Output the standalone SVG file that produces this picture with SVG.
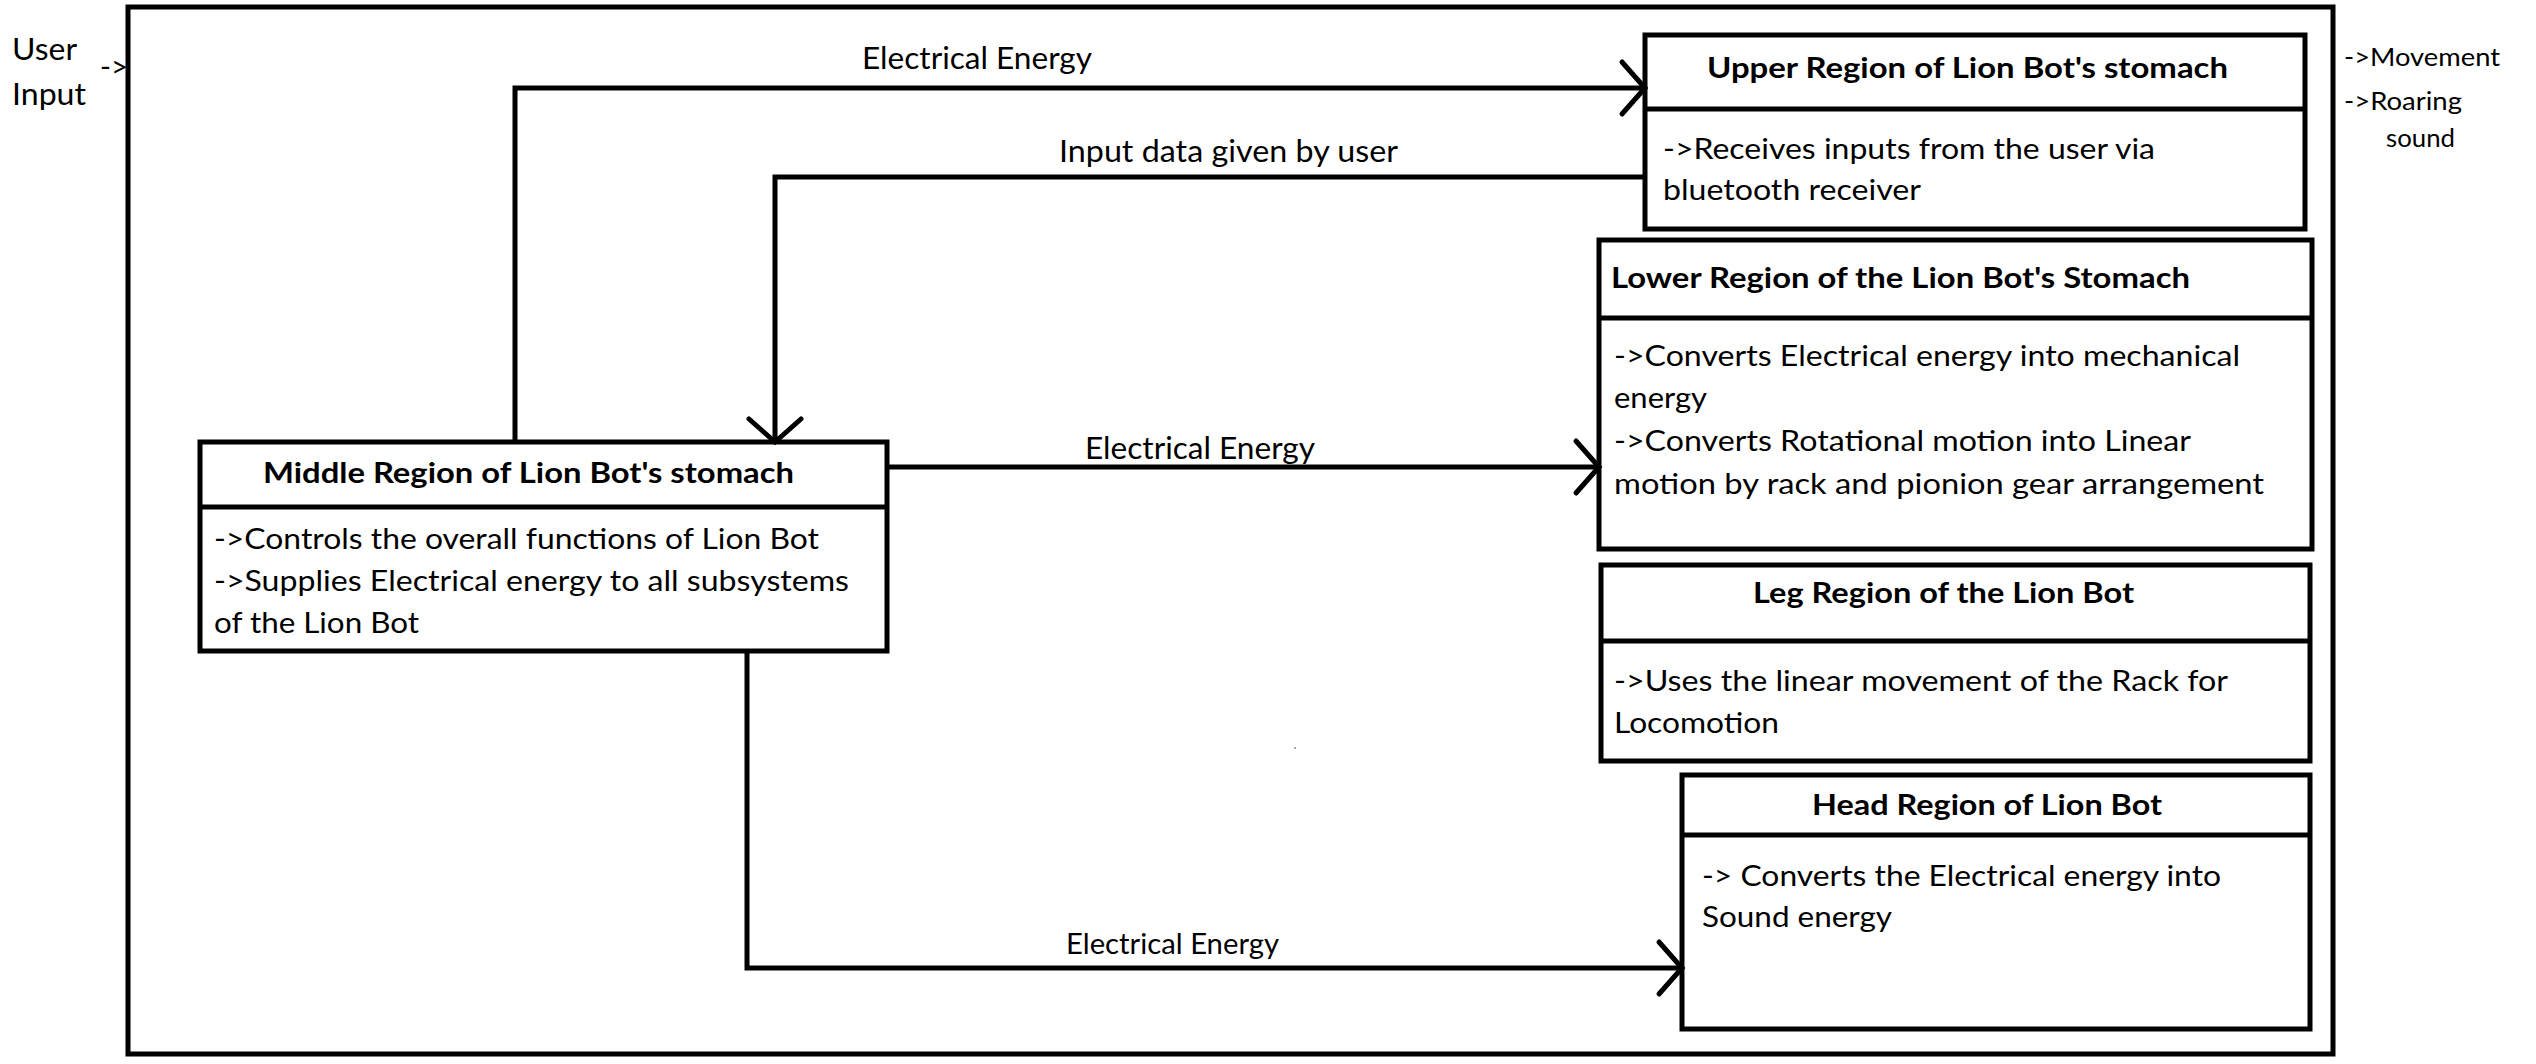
<svg xmlns="http://www.w3.org/2000/svg" width="2536" height="1064" viewBox="0 0 2536 1064">
<style>
  .frame, .box, .div { fill: none; stroke: #000; stroke-width: 5; }
  .conn { fill: none; stroke: #000; stroke-width: 5; stroke-linejoin: miter; }
  text { font-family: Lato, "Liberation Sans", Arial, sans-serif; fill: #000; }
  .t { font-size: 29.5px; }
  .b { font-size: 28px; font-weight: bold; }
  .lbl { font-size: 30px; }
  .sm { font-size: 25px; }
</style>
<defs>
  <marker id="arr" markerUnits="userSpaceOnUse" viewBox="-30 -30 36 60" refX="0" refY="0" markerWidth="36" markerHeight="60" orient="auto" overflow="visible">
    <path d="M-23,-26 L0,0 L-23,26" fill="none" stroke="#000" stroke-width="5" stroke-linecap="round"/>
  </marker>
</defs>
<rect width="2536" height="1064" fill="#fff"/>

<g id="frame">
  <rect class="frame" x="128" y="7" width="2205" height="1047"/>
</g>

<g id="user-input">
  <text class="t" x="12" y="60" textLength="65" lengthAdjust="spacingAndGlyphs" style="font-size:31.5px">User</text>
  <text class="t" x="12" y="105" textLength="74" lengthAdjust="spacingAndGlyphs" style="font-size:31.5px">Input</text>
  <text class="t" x="100" y="77" textLength="28" lengthAdjust="spacingAndGlyphs">-&gt;</text>
</g>

<g id="outputs">
  <text class="sm" x="2344" y="66" textLength="156" lengthAdjust="spacingAndGlyphs">-&gt;Movement</text>
  <text class="sm" x="2344" y="110" textLength="118" lengthAdjust="spacingAndGlyphs">-&gt;Roaring</text>
  <text class="sm" x="2386" y="147" textLength="69" lengthAdjust="spacingAndGlyphs">sound</text>
</g>

<g id="connectors">
  <path class="conn" d="M515,442 V88 H1645" marker-end="url(#arr)"/>
  <path class="conn" d="M1645,177 H775 V442" marker-end="url(#arr)"/>
  <path class="conn" d="M889,467 H1599" marker-end="url(#arr)"/>
  <path class="conn" d="M747,651 V968 H1682" marker-end="url(#arr)"/>
  <text class="lbl" x="862" y="69" textLength="230" lengthAdjust="spacingAndGlyphs">Electrical Energy</text>
  <text class="lbl" x="1059" y="162" textLength="339" lengthAdjust="spacingAndGlyphs">Input data given by user</text>
  <text class="lbl" x="1085" y="459" textLength="230" lengthAdjust="spacingAndGlyphs">Electrical Energy</text>
  <text class="t" x="1066" y="954" textLength="213" lengthAdjust="spacingAndGlyphs" style="font-size:28.5px">Electrical Energy</text>
</g>

<g id="middle">
  <rect class="box" x="200" y="442" width="687" height="209"/>
  <line class="div" x1="200" y1="507" x2="887" y2="507"/>
  <text class="b" x="263" y="483" textLength="531" lengthAdjust="spacingAndGlyphs">Middle Region of Lion Bot's stomach</text>
  <text class="t" x="214" y="549" textLength="605" lengthAdjust="spacingAndGlyphs">-&gt;Controls the overall functions of Lion Bot</text>
  <text class="t" x="214" y="591" textLength="635" lengthAdjust="spacingAndGlyphs">-&gt;Supplies Electrical energy to all subsystems</text>
  <text class="t" x="214" y="633" textLength="205" lengthAdjust="spacingAndGlyphs">of the Lion Bot</text>
</g>

<g id="upper">
  <rect class="box" x="1645" y="35" width="660" height="194"/>
  <line class="div" x1="1645" y1="109" x2="2305" y2="109"/>
  <text class="b" x="1707" y="78" textLength="521" lengthAdjust="spacingAndGlyphs">Upper Region of Lion Bot's stomach</text>
  <text class="t" x="1663" y="159" textLength="492" lengthAdjust="spacingAndGlyphs">-&gt;Receives inputs from the user via</text>
  <text class="t" x="1663" y="200" textLength="258" lengthAdjust="spacingAndGlyphs">bluetooth receiver</text>
</g>

<g id="lower">
  <rect class="box" x="1599" y="240" width="713" height="309"/>
  <line class="div" x1="1599" y1="318" x2="2312" y2="318"/>
  <text class="b" x="1611" y="288" textLength="579" lengthAdjust="spacingAndGlyphs">Lower Region of the Lion Bot's Stomach</text>
  <text class="t" x="1614" y="366" textLength="626" lengthAdjust="spacingAndGlyphs">-&gt;Converts Electrical energy into mechanical</text>
  <text class="t" x="1614" y="408" textLength="93" lengthAdjust="spacingAndGlyphs">energy</text>
  <text class="t" x="1614" y="451" textLength="577" lengthAdjust="spacingAndGlyphs">-&gt;Converts Rotational motion into Linear</text>
  <text class="t" x="1614" y="494" textLength="650" lengthAdjust="spacingAndGlyphs">motion by rack and pionion gear arrangement</text>
</g>

<g id="leg">
  <rect class="box" x="1601" y="565" width="709" height="196"/>
  <line class="div" x1="1601" y1="641" x2="2310" y2="641"/>
  <text class="b" x="1753" y="603" textLength="381" lengthAdjust="spacingAndGlyphs">Leg Region of the Lion Bot</text>
  <text class="t" x="1614" y="691" textLength="614" lengthAdjust="spacingAndGlyphs">-&gt;Uses the linear movement of the Rack for</text>
  <text class="t" x="1614" y="733" textLength="165" lengthAdjust="spacingAndGlyphs">Locomotion</text>
</g>

<g id="head">
  <rect class="box" x="1682" y="775" width="628" height="254"/>
  <line class="div" x1="1682" y1="835" x2="2310" y2="835"/>
  <text class="b" x="1812" y="815" textLength="350" lengthAdjust="spacingAndGlyphs">Head Region of Lion Bot</text>
  <text class="t" x="1702" y="886" textLength="519" lengthAdjust="spacingAndGlyphs">-&gt; Converts the Electrical energy into</text>
  <text class="t" x="1702" y="927" textLength="190" lengthAdjust="spacingAndGlyphs">Sound energy</text>
</g>

<rect x="1294" y="747" width="2" height="2" fill="#aaa"/>
</svg>
